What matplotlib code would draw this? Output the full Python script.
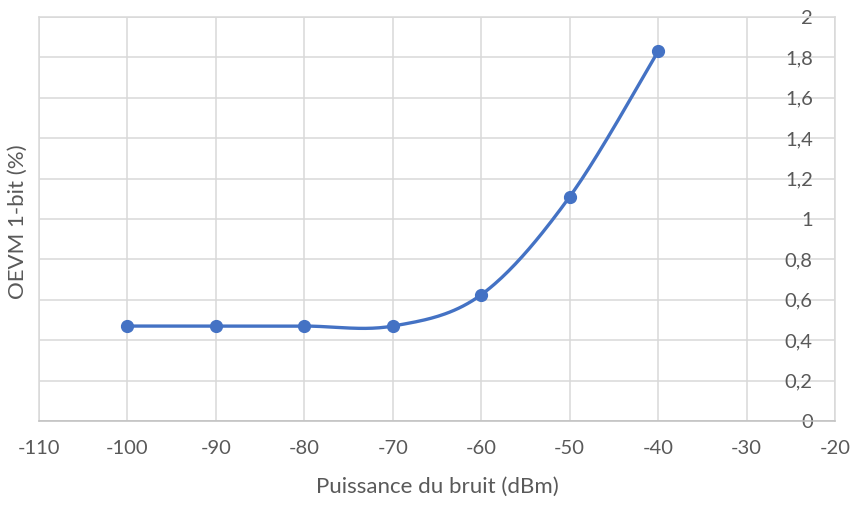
import numpy as np
import matplotlib.pyplot as plt

# Noise power sweep and measured 1-bit OEVM
noise_dbm = [-100, -90, -80, -70, -60, -50, -40]
oevm_pct = [0.47, 0.47, 0.47, 0.47, 0.625, 1.11, 1.83]

x_ticks = [-110, -100, -90, -80, -70, -60, -50, -40, -30, -20]
y_ticks = [0, 0.2, 0.4, 0.6, 0.8, 1, 1.2, 1.4, 1.6, 1.8, 2]
y_tick_labels = ['0', '0,2', '0,4', '0,6', '0,8', '1', '1,2', '1,4', '1,6', '1,8', '2']

BLUE = '#4472C4'
GRID = '#d9d9d9'
TEXT = '#595959'
FS = 14.5
FS_TITLE = 16

plt.rcParams['font.family'] = ['Lato', 'DejaVu Sans']


def smooth_curve(xs, ys, steps=40):
    """Catmull-Rom style smoothing through the points (like a spreadsheet smoothed line)"""
    xs = np.asarray(xs, float)
    ys = np.asarray(ys, float)
    px = np.concatenate([[xs[0]], xs, [xs[-1]]])
    py = np.concatenate([[ys[0]], ys, [ys[-1]]])
    out_x, out_y = [], []
    for i in range(1, len(px) - 2):
        p0, p1, p2, p3 = (np.array([px[j], py[j]]) for j in (i - 1, i, i + 1, i + 2))
        c1 = p1 + (p2 - p0) / 6
        c2 = p2 - (p3 - p1) / 6
        t = np.linspace(0, 1, steps)[:, None]
        pts = ((1 - t) ** 3) * p1 + 3 * ((1 - t) ** 2) * t * c1 + 3 * (1 - t) * t ** 2 * c2 + t ** 3 * p2
        out_x.extend(pts[:, 0])
        out_y.extend(pts[:, 1])
    return np.array(out_x), np.array(out_y)


fig = plt.figure(figsize=(8.54, 5.05), dpi=100)
ax = fig.add_axes([39 / 854, 84 / 505, (835 - 39) / 854, (421 - 17) / 505])

sx, sy = smooth_curve(noise_dbm, oevm_pct)
ax.plot(sx, sy, color=BLUE, linewidth=2.4, solid_capstyle='round', zorder=3)
ax.plot(noise_dbm, oevm_pct, linestyle='none', marker='o', markersize=8.5,
        color=BLUE, zorder=4)

ax.set_xlim(-110, -20)
ax.set_ylim(0, 2)
ax.set_xticks(x_ticks)
ax.set_xticklabels([str(v) for v in x_ticks])
ax.set_yticks(y_ticks)
ax.set_yticklabels(y_tick_labels)

ax.grid(True, color=GRID, linewidth=1.1, zorder=0)
ax.set_axisbelow(True)
for side in ['top', 'left', 'right']:
    ax.spines[side].set_color(GRID)
    ax.spines[side].set_linewidth(1.1)
ax.spines['bottom'].set_color('#bfbfbf')
ax.spines['bottom'].set_linewidth(1.1)

# y labels sit just inside the right edge, on top of the grid
ax.yaxis.tick_right()
ax.tick_params(axis='y', length=0, pad=-16, labelsize=FS, labelcolor=TEXT)
for lbl in ax.get_yticklabels():
    lbl.set_horizontalalignment('right')
ax.tick_params(axis='x', length=0, pad=14, labelsize=FS, labelcolor=TEXT)

ax.set_xlabel('Puissance du bruit (dBm)', fontsize=FS_TITLE, color=TEXT, labelpad=14)
fig.text(18 / 854, 1 - 222 / 505, 'OEVM 1-bit (%)', rotation=90, fontsize=FS_TITLE,
         color=TEXT, ha='center', va='center')

fig.savefig('out.png', dpi=100, facecolor='white')
